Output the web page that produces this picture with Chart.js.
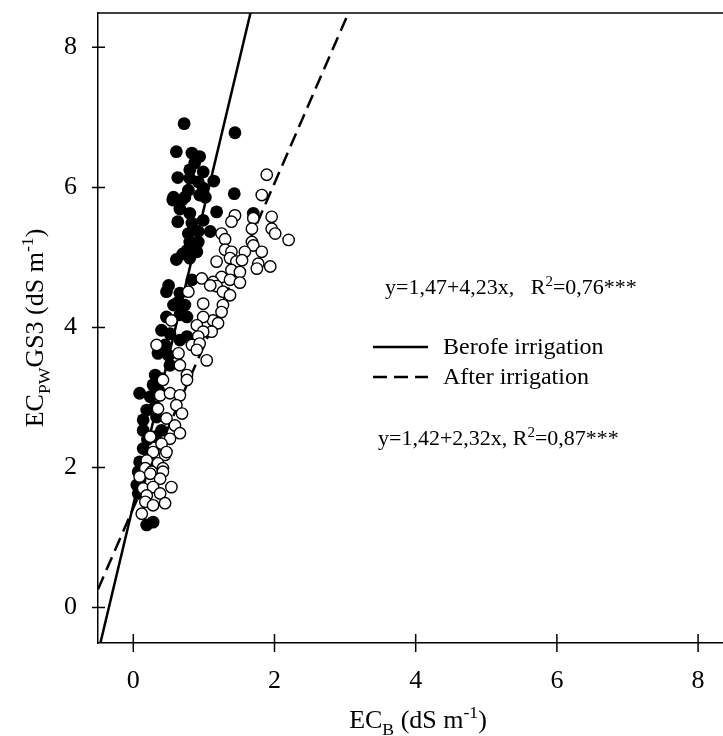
<!DOCTYPE html>
<html lang="en">
<head>
    <meta charset="UTF-8">
    <title>EC PW GS3 vs EC B</title>
    <script src="https://cdn.jsdelivr.net/npm/chart.js"></script>
    <style>
        html, body { margin: 0; padding: 0; background: #fff; }
        #wrap { width: 723px; height: 736px; overflow: hidden; }
    </style>
</head>
<body>
    <div id="wrap"><canvas id="myChart" width="723" height="736"></canvas></div>

    <script>
        // Before irrigation (filled circles)
        const beforeX = [0.72, 1.44, 0.61, 0.83, 0.94, 0.87, 0.80, 0.99, 0.63, 0.80, 1.14, 0.92, 0.99, 0.78, 1.43, 0.57, 0.73, 1.02, 0.94, 0.56,
                         0.69, 0.66, 0.80, 1.18, 0.63, 0.83, 0.99, 0.78, 0.92, 1.09, 1.70, 0.80, 0.92, 0.76, 0.90, 0.61, 0.80, 0.50, 0.83, 0.66,
                         0.47, 0.57, 0.73, 0.47, 0.66, 0.76, 0.40, 0.52, 0.76, 0.66, 0.35, 0.50, 0.52, 0.31, 0.40, 0.28, 0.09, 0.24, 0.19, 0.31,
                         0.14, 0.33, 0.14, 0.40, 0.31, 0.14, 0.24, 0.09, 0.07, 0.05, 0.07, 0.19, 0.28, 0.45, 0.62, 0.70, 0.20, 0.36, 0.10];
        const beforeY = [6.91, 6.78, 6.51, 6.49, 6.44, 6.35, 6.25, 6.22, 6.14, 6.13, 6.09, 6.08, 5.99, 5.96, 5.91, 5.86, 5.86, 5.86, 5.89, 5.82,
                         5.82, 5.69, 5.63, 5.65, 5.51, 5.49, 5.53, 5.34, 5.37, 5.37, 5.63, 5.22, 5.22, 5.10, 5.08, 4.97, 4.99, 4.60, 4.68, 4.49,
                         4.51, 4.32, 4.32, 4.15, 4.18, 4.15, 3.96, 3.91, 3.87, 3.82, 3.63, 3.60, 3.46, 3.32, 3.27, 3.18, 3.06, 3.01, 2.82, 2.87,
                         2.68, 2.72, 2.53, 2.53, 2.44, 2.27, 2.20, 2.08, 1.94, 1.75, 1.63, 1.18, 1.22, 3.75, 4.35, 5.05, 2.40, 3.10, 1.85];

        // After irrigation (open circles)
        const afterX = [1.89, 1.82, 1.44, 1.39, 1.70, 1.96, 1.68, 1.96, 2.01, 2.20, 1.25, 1.30, 1.68, 1.70, 1.30, 1.39, 1.58, 1.82, 1.18, 1.37,
                        1.46, 1.54, 1.77, 1.75, 1.94, 1.39, 1.51, 1.25, 0.97, 1.13, 1.37, 1.51, 1.18, 1.09, 0.78, 1.27, 1.37, 0.99, 1.27, 1.25,
                        1.13, 0.99, 1.20, 0.54, 0.90, 1.11, 0.99, 0.92, 0.83, 0.94, 0.33, 0.64, 0.90, 1.04, 0.66, 0.76, 0.76, 0.42, 0.38, 0.52,
                        0.66, 0.61, 0.35, 0.69, 0.47, 0.59, 0.66, 0.24, 0.52, 0.40, 0.28, 0.45, 0.47, 0.19, 0.35, 0.42, 0.17, 0.26, 0.09, 0.24,
                        0.42, 0.38, 0.14, 0.28, 0.54, 0.19, 0.38, 0.17, 0.28, 0.45, 0.12];
        const afterY = [6.18, 5.89, 5.60, 5.51, 5.56, 5.58, 5.41, 5.41, 5.34, 5.25, 5.34, 5.26, 5.22, 5.17, 5.11, 5.08, 5.08, 5.08, 4.94, 4.99,
                        4.94, 4.96, 4.91, 4.84, 4.87, 4.82, 4.79, 4.72, 4.70, 4.65, 4.68, 4.64, 4.59, 4.60, 4.51, 4.51, 4.46, 4.34, 4.32, 4.22,
                        4.10, 4.15, 4.06, 4.10, 4.03, 3.94, 3.94, 3.87, 3.75, 3.77, 3.75, 3.63, 3.68, 3.53, 3.46, 3.32, 3.25, 3.25, 3.03, 3.06,
                        3.03, 2.89, 2.84, 2.77, 2.70, 2.60, 2.49, 2.44, 2.41, 2.34, 2.22, 2.18, 2.22, 2.10, 2.06, 1.99, 1.99, 1.94, 1.87, 1.91,
                        1.94, 1.84, 1.70, 1.72, 1.72, 1.60, 1.63, 1.51, 1.46, 1.49, 1.34];

        // Regression lines (end points, clipped by the plot area)
        const solidLineX = [-0.5, 2.0];
        const solidLineY = [-0.65, 9.93];
        const dashedLineX = [-0.5, 3.5];
        const dashedLineY = [0.26, 9.54];

        const xTicks = [0, 2, 4, 6, 8];
        const yTicks = [0, 2, 4, 6, 8];
        const legendLabels = ['Berofe irrigation', 'After irrigation'];

        const SERIF = "'Liberation Serif', 'Times New Roman', serif";
        Chart.defaults.font.family = SERIF;
        Chart.defaults.color = '#000';

        const toPoints = (xs, ys) => xs.map((x, i) => ({ x: x, y: ys[i] }));

        // draw a run of text pieces, some sub/superscript
        function drawPieces(ctx, pieces, x, y, size) {
            pieces.forEach(p => {
                let s = size, dy = 0;
                if (p.sub) { s = size * 0.68; dy = size * 0.25; }
                if (p.sup) { s = size * 0.68; dy = -size * 0.38; }
                ctx.font = s + 'px ' + SERIF;
                ctx.fillText(p.t, x, y + dy);
                x += ctx.measureText(p.t).width;
            });
            return x;
        }
        function piecesWidth(ctx, pieces, size) {
            let w = 0;
            pieces.forEach(p => {
                const s = (p.sub || p.sup) ? size * 0.68 : size;
                ctx.font = s + 'px ' + SERIF;
                w += ctx.measureText(p.t).width;
            });
            return w;
        }

        // no extra room for edge tick labels
        function noPad(s) {
            s.paddingTop = 0; s.paddingBottom = 0;
            s.paddingLeft = 0; s.paddingRight = 0;
        }

        const decor = {
            id: 'decor',
            afterDraw(chart) {
                const ctx = chart.ctx;
                const area = chart.chartArea;
                const xs = chart.scales.x, ys = chart.scales.y;
                ctx.save();
                ctx.strokeStyle = '#000';
                ctx.fillStyle = '#000';
                ctx.lineWidth = 1.5;

                // top frame line
                ctx.beginPath();
                ctx.moveTo(area.left, area.top);
                ctx.lineTo(area.right, area.top);
                ctx.stroke();

                // tick marks crossing the axes
                ctx.beginPath();
                xs.ticks.forEach(t => {
                    const px = xs.getPixelForValue(t.value);
                    ctx.moveTo(px, area.bottom - 9);
                    ctx.lineTo(px, area.bottom + 9);
                });
                ys.ticks.forEach(t => {
                    const py = ys.getPixelForValue(t.value);
                    ctx.moveTo(area.left - 6, py);
                    ctx.lineTo(area.left + 7, py);
                });
                ctx.stroke();

                ctx.textBaseline = 'alphabetic';
                ctx.textAlign = 'left';

                // x axis title
                const xt = [{ t: 'EC' }, { t: 'B', sub: true }, { t: ' (dS m' }, { t: '-1', sup: true }, { t: ')' }];
                const xw = piecesWidth(ctx, xt, 26);
                drawPieces(ctx, xt, 418 - xw / 2, 728, 26);

                // y axis title (rotated)
                const yt = [{ t: 'EC' }, { t: 'PW', sub: true }, { t: 'GS3 (dS m' }, { t: '-1', sup: true }, { t: ')' }];
                const yw = piecesWidth(ctx, yt, 26);
                ctx.save();
                ctx.translate(43, (area.top + area.bottom) / 2);
                ctx.rotate(-Math.PI / 2);
                drawPieces(ctx, yt, -yw / 2, 0, 26);
                ctx.restore();

                // equations
                drawPieces(ctx, [{ t: 'y=1,47+4,23x,   R' }, { t: '2', sup: true }, { t: '=0,76***' }], 385, 294, 22);
                drawPieces(ctx, [{ t: 'y=1,42+2,32x, R' }, { t: '2', sup: true }, { t: '=0,87***' }], 378, 445, 22);

                // legend
                const lineSets = [chart.data.datasets[2], chart.data.datasets[3]];
                const rows = [347, 377];
                lineSets.forEach((ds, i) => {
                    ctx.beginPath();
                    ctx.lineWidth = ds.borderWidth;
                    ctx.setLineDash(ds.borderDash || []);
                    ctx.moveTo(373, rows[i]);
                    ctx.lineTo(428, rows[i]);
                    ctx.stroke();
                    ctx.setLineDash([]);
                    ctx.font = '24px ' + SERIF;
                    ctx.textBaseline = 'middle';
                    ctx.fillText(legendLabels[i], 443, rows[i] + 1);
                    ctx.textBaseline = 'alphabetic';
                });
                ctx.restore();
            }
        };

        const ctx = document.getElementById('myChart').getContext('2d');
        new Chart(ctx, {
            type: 'scatter',
            data: {
                datasets: [
                    {
                        label: 'After irrigation points',
                        data: toPoints(afterX, afterY),
                        backgroundColor: '#fff',
                        borderColor: '#000',
                        borderWidth: 1.4,
                        pointRadius: 5.7,
                        order: 1
                    },
                    {
                        label: 'Before irrigation points',
                        data: toPoints(beforeX, beforeY),
                        backgroundColor: '#000',
                        borderColor: '#000',
                        borderWidth: 0,
                        pointRadius: 6.4,
                        order: 2
                    },
                    {
                        label: legendLabels[0],
                        type: 'line',
                        data: toPoints(solidLineX, solidLineY),
                        borderColor: '#000',
                        borderWidth: 2.5,
                        pointRadius: 0,
                        fill: false,
                        clip: 0,
                        order: 3
                    },
                    {
                        label: legendLabels[1],
                        type: 'line',
                        data: toPoints(dashedLineX, dashedLineY),
                        borderColor: '#000',
                        borderWidth: 2.5,
                        borderDash: [14, 7],
                        pointRadius: 0,
                        fill: false,
                        clip: 0,
                        order: 4
                    }
                ]
            },
            options: {
                responsive: false,
                animation: false,
                layout: { autoPadding: false, padding: { left: 0, top: 13, right: 0, bottom: 0 } },
                scales: {
                    x: {
                        type: 'linear',
                        min: -0.5,
                        max: 8.353,
                        afterBuildTicks: s => { s.ticks = xTicks.map(v => ({ value: v })); },
                        afterFit: s => { s.height = 93; noPad(s); },
                        grid: { display: false, drawTicks: false },
                        border: { display: true, color: '#000', width: 1.5 },
                        ticks: { font: { size: 26 }, color: '#000', padding: 23, maxRotation: 0 }
                    },
                    y: {
                        type: 'linear',
                        min: -0.506,
                        max: 8.49,
                        afterBuildTicks: s => { s.ticks = yTicks.map(v => ({ value: v })); },
                        afterFit: s => { s.width = 98; noPad(s); },
                        grid: { display: false, drawTicks: false },
                        border: { display: true, color: '#000', width: 1.5 },
                        ticks: { font: { size: 26 }, color: '#000', padding: 21 }
                    }
                },
                plugins: {
                    legend: { display: false },
                    tooltip: { enabled: false }
                }
            },
            plugins: [decor]
        });
    </script>
</body>
</html>
